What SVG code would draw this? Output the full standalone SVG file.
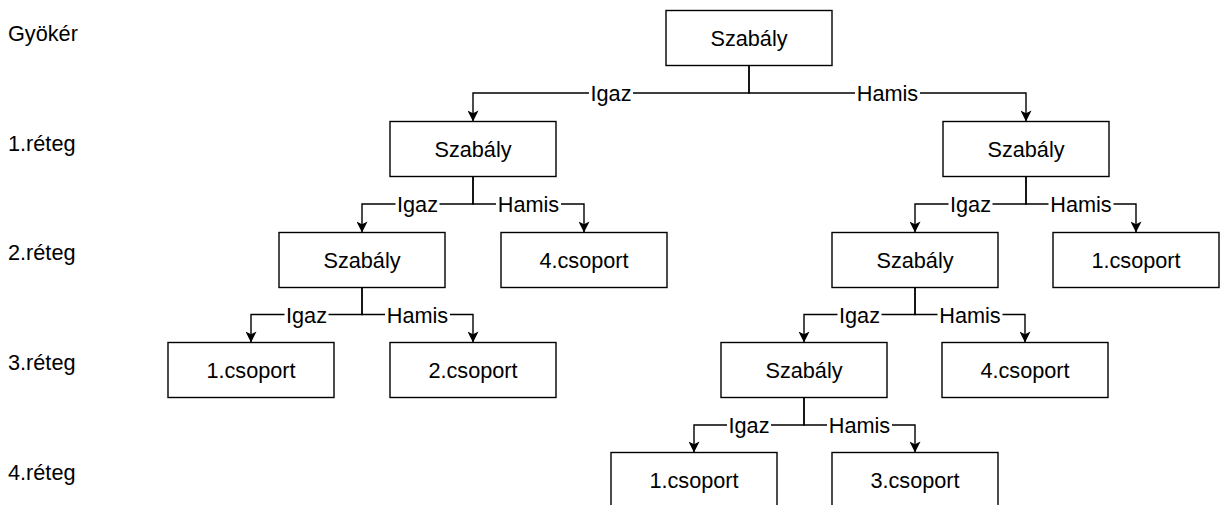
<svg xmlns="http://www.w3.org/2000/svg" width="1221" height="505" viewBox="0 0 1221 505">
  <style>
    text { font-family: "Liberation Sans", Arial, sans-serif; font-size: 21.7px; fill: #000; }
    .node rect { fill: #fff; stroke: #000; stroke-width: 1.4; }
    .node text { text-anchor: middle; }
    .edge { fill: none; stroke: #000; stroke-width: 1.4; marker-end: url(#arrow); }
    .lbl rect { fill: #fff; }
    .lbl text { text-anchor: middle; }
    .layer { text-anchor: start; }
  </style>
  <defs>
    <marker id="arrow" viewBox="0 0 12 12" refX="12" refY="6" markerWidth="12" markerHeight="11" markerUnits="userSpaceOnUse" orient="auto">
      <path d="M0,0 L12,6 L0,12 L3,6 z" fill="#000"/>
    </marker>
  </defs>

  <rect width="1221" height="505" fill="#fff"/>

  <!-- layer captions -->
  <g id="layers">
    <text class="layer" x="8" y="40.5">Gyökér</text>
    <text class="layer" x="8" y="150.5">1.réteg</text>
    <text class="layer" x="8" y="259.5">2.réteg</text>
    <text class="layer" x="8" y="369.5">3.réteg</text>
    <text class="layer" x="8" y="480">4.réteg</text>
  </g>

  <!-- connectors -->
  <g id="connectors">
    <path class="edge" d="M749,65.5 V93 H473 V121.5"/>
    <path class="edge" d="M749,65.5 V93 H1026 V121.5"/>
    <path class="edge" d="M473,176.5 V204 H362 V232.5"/>
    <path class="edge" d="M473,176.5 V204 H584 V232.5"/>
    <path class="edge" d="M1026,176.5 V204 H915 V232.5"/>
    <path class="edge" d="M1026,176.5 V204 H1136 V232.5"/>
    <path class="edge" d="M362,287.5 V314.5 H251 V342.5"/>
    <path class="edge" d="M362,287.5 V314.5 H473 V342.5"/>
    <path class="edge" d="M915,287.5 V314.5 H804 V342.5"/>
    <path class="edge" d="M915,287.5 V314.5 H1025 V342.5"/>
    <path class="edge" d="M804,397.5 V425 H694 V452.5"/>
    <path class="edge" d="M804,397.5 V425 H915 V452.5"/>

    <!-- branch labels -->
    <g class="lbl"><rect x="589" y="82" width="44" height="22"/><text x="611" y="101">Igaz</text></g>
    <g class="lbl"><rect x="855" y="82" width="65" height="22"/><text x="887.5" y="101">Hamis</text></g>
    <g class="lbl"><rect x="395.5" y="193" width="44" height="22"/><text x="417.5" y="212">Igaz</text></g>
    <g class="lbl"><rect x="496" y="193" width="65" height="22"/><text x="528.5" y="212">Hamis</text></g>
    <g class="lbl"><rect x="948.5" y="193" width="44" height="22"/><text x="970.5" y="212">Igaz</text></g>
    <g class="lbl"><rect x="1048.5" y="193" width="65" height="22"/><text x="1081" y="212">Hamis</text></g>
    <g class="lbl"><rect x="284.5" y="303.5" width="44" height="22"/><text x="306.5" y="322.5">Igaz</text></g>
    <g class="lbl"><rect x="385" y="303.5" width="65" height="22"/><text x="417.5" y="322.5">Hamis</text></g>
    <g class="lbl"><rect x="837.5" y="303.5" width="44" height="22"/><text x="859.5" y="322.5">Igaz</text></g>
    <g class="lbl"><rect x="937.5" y="303.5" width="65" height="22"/><text x="970" y="322.5">Hamis</text></g>
    <g class="lbl"><rect x="727" y="414" width="44" height="22"/><text x="749" y="433">Igaz</text></g>
    <g class="lbl"><rect x="827" y="414" width="65" height="22"/><text x="859.5" y="433">Hamis</text></g>
  </g>

  <!-- root -->
  <g id="n-root" class="node"><rect x="666" y="10.5" width="166" height="55"/><text x="749" y="45.7">Szabály</text></g>

  <!-- layer 1 -->
  <g id="n-l1-igaz" class="node"><rect x="390" y="121.5" width="166" height="55"/><text x="473" y="156.7">Szabály</text></g>
  <g id="n-l1-hamis" class="node"><rect x="943" y="121.5" width="166" height="55"/><text x="1026" y="156.7">Szabály</text></g>

  <!-- layer 2 -->
  <g id="n-l2-a" class="node"><rect x="279" y="232.5" width="166" height="55"/><text x="362" y="267.7">Szabály</text></g>
  <g id="n-l2-b" class="node"><rect x="501" y="232.5" width="166" height="55"/><text x="584" y="267.7">4.csoport</text></g>
  <g id="n-l2-c" class="node"><rect x="832" y="232.5" width="166" height="55"/><text x="915" y="267.7">Szabály</text></g>
  <g id="n-l2-d" class="node"><rect x="1053" y="232.5" width="166" height="55"/><text x="1136" y="267.7">1.csoport</text></g>

  <!-- layer 3 -->
  <g id="n-l3-a" class="node"><rect x="168" y="342.5" width="166" height="55"/><text x="251" y="377.7">1.csoport</text></g>
  <g id="n-l3-b" class="node"><rect x="390" y="342.5" width="166" height="55"/><text x="473" y="377.7">2.csoport</text></g>
  <g id="n-l3-c" class="node"><rect x="721" y="342.5" width="166" height="55"/><text x="804" y="377.7">Szabály</text></g>
  <g id="n-l3-d" class="node"><rect x="942" y="342.5" width="166" height="55"/><text x="1025" y="377.7">4.csoport</text></g>

  <!-- layer 4 -->
  <g id="n-l4-a" class="node"><rect x="611" y="452.5" width="166" height="55"/><text x="694" y="487.7">1.csoport</text></g>
  <g id="n-l4-b" class="node"><rect x="832" y="452.5" width="166" height="55"/><text x="915" y="487.7">3.csoport</text></g>
</svg>
